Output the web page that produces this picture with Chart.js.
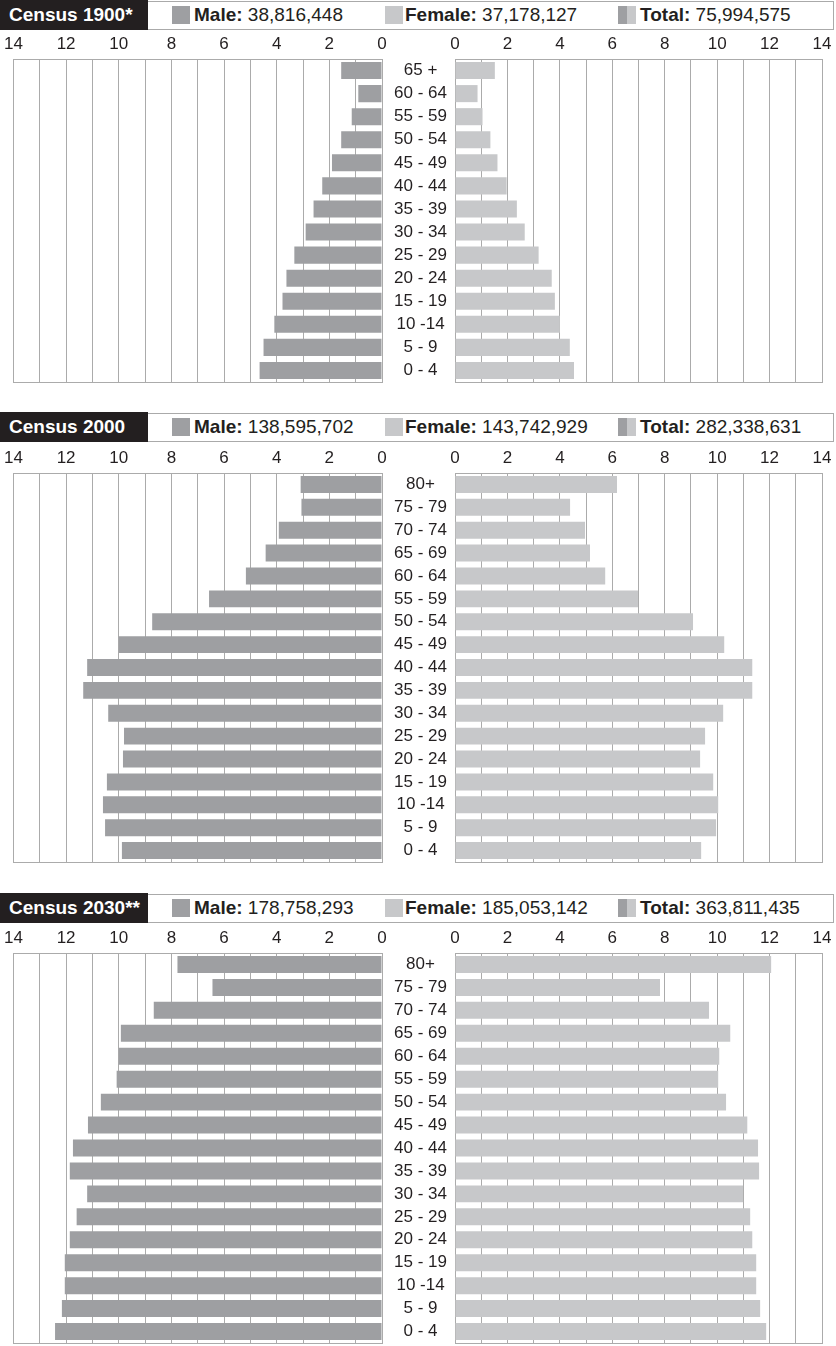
<!DOCTYPE html>
<html>
<head>
<meta charset="utf-8">
<title>Census population pyramids</title>
<script src="https://cdn.jsdelivr.net/npm/chart.js@4.4.0/dist/chart.umd.min.js"></script>
<style>
  body { margin: 0; background: #fff; font-family: 'Liberation Sans', Arial, sans-serif; color: #231f20; }
  #page { position: relative; width: 836px; height: 1346px; overflow: hidden; }
  .hdr { position: absolute; left: 0; width: 836px; height: 30px; }
  .tag { position: absolute; left: 0; top: 0; width: 148px; height: 30px; background: #231f20; color: #fff;
         font-weight: bold; font-size: 19px; line-height: 30px; padding-left: 9px; box-sizing: border-box; white-space: nowrap; }
  .legbox { position: absolute; left: 148px; top: 1px; width: 686px; height: 29px; border: 1px solid #aaa; border-left: none; box-sizing: border-box; }
  .sw { position: absolute; top: 6px; width: 18px; height: 18px; }
  .lt { position: absolute; top: 0; font-size: 19px; line-height: 30px; white-space: nowrap; }
  .lt b { font-weight: bold; }
  canvas { position: absolute; display: block; }
</style>
</head>
<body>
<div id="page"></div>
<script>
// age groups, top row first
const ages1900 = ['65 +', '60 - 64', '55 - 59', '50 - 54', '45 - 49', '40 - 44', '35 - 39', '30 - 34', '25 - 29', '20 - 24', '15 - 19', '10 -14', '5 - 9', '0 - 4'];
const agesModern = ['80+', '75 - 79', '70 - 74', '65 - 69', '60 - 64', '55 - 59', '50 - 54', '45 - 49', '40 - 44', '35 - 39', '30 - 34', '25 - 29', '20 - 24', '15 - 19', '10 -14', '5 - 9', '0 - 4'];

// population in millions
const male1900 = [1.55, 0.9, 1.15, 1.55, 1.9, 2.27, 2.6, 2.9, 3.33, 3.63, 3.78, 4.09, 4.5, 4.65];
const female1900 = [1.52, 0.86, 1.05, 1.35, 1.62, 1.97, 2.36, 2.66, 3.19, 3.69, 3.81, 4.0, 4.38, 4.54];
const male2000 = [3.09, 3.06, 3.92, 4.42, 5.17, 6.57, 8.73, 10.0, 11.2, 11.35, 10.4, 9.8, 9.84, 10.45, 10.6, 10.52, 9.88];
const female2000 = [6.18, 4.39, 4.96, 5.15, 5.73, 6.98, 9.08, 10.27, 11.34, 11.34, 10.23, 9.54, 9.35, 9.85, 10.04, 9.96, 9.39];
const male2030 = [7.77, 6.44, 8.67, 9.92, 10.0, 10.08, 10.68, 11.17, 11.74, 11.86, 11.2, 11.6, 11.86, 12.05, 12.05, 12.16, 12.42];
const female2030 = [12.06, 7.82, 9.69, 10.5, 10.08, 10.04, 10.34, 11.15, 11.56, 11.6, 10.99, 11.26, 11.34, 11.49, 11.49, 11.64, 11.87];

const titles = ['Census 1900*', 'Census 2000', 'Census 2030**'];
const maleTotals = ['38,816,448', '138,595,702', '178,758,293'];
const femaleTotals = ['37,178,127', '143,742,929', '185,053,142'];
const grandTotals = ['75,994,575', '282,338,631', '363,811,435'];

const tickValues = [0, 2, 4, 6, 8, 10, 12, 14];

const maleColor = '#9e9fa2';
const femaleColor = '#c7c8ca';
const gridColor = '#ababab';
const textColor = '#231f20';

Chart.defaults.font.family = "'Liberation Sans', Arial, sans-serif";

const page = document.getElementById('page');

function header(i, top) {
  const h = document.createElement('div');
  h.className = 'hdr';
  h.style.top = top + 'px';
  h.innerHTML =
    '<div class="tag">' + titles[i] + '</div>' +
    '<div class="legbox"></div>' +
    '<div class="sw" style="left:172px;background:' + maleColor + '"></div>' +
    '<div class="lt" style="left:194px"><b>Male:</b> ' + maleTotals[i] + '</div>' +
    '<div class="sw" style="left:385px;background:' + femaleColor + '"></div>' +
    '<div class="lt" style="left:405px"><b>Female:</b> ' + femaleTotals[i] + '</div>' +
    '<div class="sw" style="left:618px;width:9px;background:' + maleColor + '"></div>' +
    '<div class="sw" style="left:627px;width:9px;background:' + femaleColor + '"></div>' +
    '<div class="lt" style="left:640px"><b>Total:</b> ' + grandTotals[i] + '</div>';
  page.appendChild(h);
}

function sideChart(left, top, width, height, labels, values, color, isLeft) {
  const c = document.createElement('canvas');
  c.width = width;
  c.height = height;
  c.style.left = left + 'px';
  c.style.top = top + 'px';
  page.appendChild(c);

  return new Chart(c, {
    type: 'bar',
    data: {
      labels: labels,
      datasets: [{
        data: values,
        backgroundColor: color,
        borderWidth: 0,
        barPercentage: 0.74,
        categoryPercentage: 1
      }]
    },
    options: {
      indexAxis: 'y',
      responsive: false,
      animation: false,
      layout: { padding: isLeft ? { left: 12, right: 13, top: 0, bottom: 2 } : { left: 0, right: 14, top: 0, bottom: 2 } },
      plugins: { legend: { display: false }, tooltip: { enabled: false } },
      scales: {
        x: {
          position: 'top',
          reverse: isLeft,
          min: 0,
          max: 14,
          grid: { color: gridColor, drawTicks: false },
          border: { color: gridColor },
          ticks: {
            stepSize: 1,
            autoSkip: false,
            maxRotation: 0,
            padding: 4,
            color: textColor,
            font: { size: 17 },
            callback: v => tickValues.includes(v) ? v : ''
          },
          afterFit: s => { s.height = 24; }
        },
        x2: {
          axis: 'x',
          position: 'bottom',
          reverse: isLeft,
          min: 0,
          max: 14,
          grid: { display: false },
          border: { display: true, color: gridColor },
          ticks: { display: false },
          afterFit: s => { s.height = 0; }
        },
        y: isLeft ? { display: false } : {
          position: 'left',
          grid: { display: false },
          border: { display: false },
          ticks: { autoSkip: false, crossAlign: 'center', padding: 0, color: textColor, font: { size: 17 } },
          afterFit: s => { s.width = 73; s.paddingTop = 0; s.paddingBottom = 0; }
        }
      }
    }
  });
}

function panel(i, hdrTop, plotTop, plotBottom, labels, male, female) {
  header(i, hdrTop);
  const h = plotBottom - plotTop + 24 + 2;
  sideChart(0, plotTop - 24, 395, h, labels, male, maleColor, true);
  sideChart(382, plotTop - 24, 454, h, labels, female, femaleColor, false);
}

panel(0, 0, 59, 382, ages1900, male1900, female1900);
panel(1, 412, 473, 862, agesModern, male2000, female2000);
panel(2, 893, 953, 1343, agesModern, male2030, female2030);
</script>
</body>
</html>
